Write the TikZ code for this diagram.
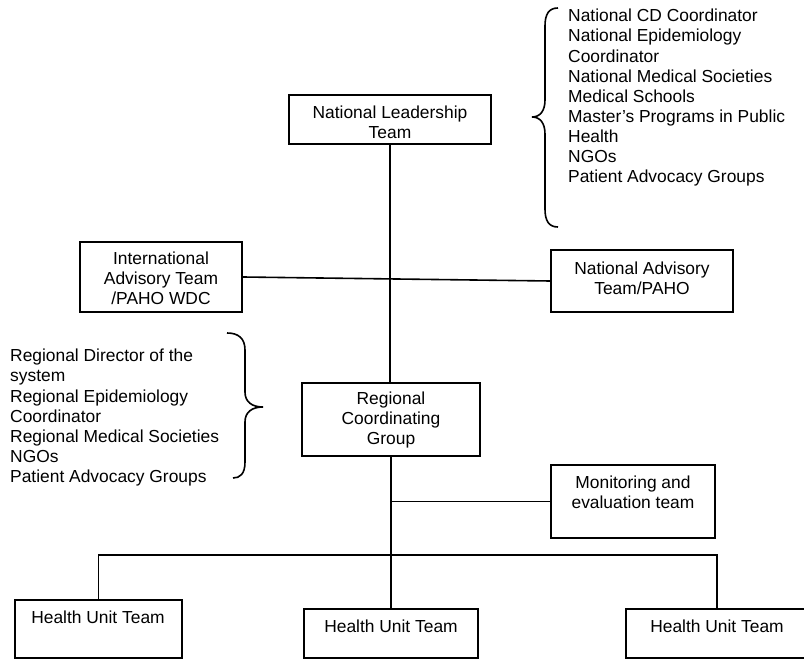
\documentclass[tikz,border=0pt]{standalone}
\usepackage{fontspec}
\setmainfont{Liberation Sans}
\begin{document}
\begin{tikzpicture}[x=1pt,y=-1pt,
  box/.style={draw, line width=1.6pt, inner sep=0pt},
  conn/.style={line width=1.6pt},
  lbl/.style={font=\fontsize{17.4}{20}\selectfont, align=center, inner sep=0pt},
  listtext/.style={font=\fontsize{17.4}{20.1}\selectfont, align=left, inner sep=0pt, anchor=north west}]

\useasboundingbox (0,0) rectangle (804,660);
\clip (0,0) rectangle (804,660);

% boxes
\node[box, minimum width=202pt, minimum height=49pt] (nlt) at (390,119.5) {};
\node[box, minimum width=162pt, minimum height=70pt] (int) at (161,277) {};
\node[box, minimum width=182pt, minimum height=62pt] (nad) at (642,281) {};
\node[box, minimum width=178pt, minimum height=73pt] (rcg) at (391,419.5) {};
\node[box, minimum width=164pt, minimum height=73pt] (mon) at (633,501.5) {};
\node[box, minimum width=167pt, minimum height=58pt] (hu1) at (98.5,629) {};
\node[box, minimum width=174pt, minimum height=49pt] (hu2) at (391,633.5) {};
\node[box, minimum width=182pt, minimum height=49pt] (hu3) at (717,633.5) {};

% box labels
\node[lbl] (nltText) at (390,122) {National Leadership\\Team};
\node[lbl] (intText) at (161,278) {International\\Advisory Team\\/PAHO WDC};
\node[lbl] (nadText) at (642,278) {National Advisory\\Team/PAHO};
\node[lbl] (rcgText) at (391,420) {Regional\\Coordinating\\Group};
\node[lbl] (monText) at (633,492) {Monitoring and\\evaluation team};
\node[lbl] (hu1Text) at (98,617) {Health Unit Team};
\node[lbl] (hu2Text) at (391,626) {Health Unit Team};
\node[lbl] (hu3Text) at (717,626) {Health Unit Team};

% member lists
\node[listtext] (natList) at (568,9) {National CD Coordinator\\National Epidemiology\\Coordinator\\National Medical Societies\\Medical Schools\\Master's Programs in Public\\Health\\NGOs\\Patient Advocacy Groups};
\node[listtext] (regList) at (10,349) {Regional Director of the\\system\\Regional Epidemiology\\Coordinator\\Regional Medical Societies\\NGOs\\Patient Advocacy Groups};

% braces
\draw[conn] (558,8) .. controls (549,8) and (545,14) .. (545,26) -- (545,100)
  .. controls (545,111) and (540,117) .. (532,117)
  .. controls (540,117) and (545,123) .. (545,134) -- (545,209)
  .. controls (545,221) and (549,227) .. (558,227);
\draw[conn] (227,333) .. controls (238,333) and (245,338) .. (245,350) -- (245,392)
  .. controls (245,402) and (252,407) .. (263,407)
  .. controls (252,407) and (245,412) .. (245,422) -- (245,462)
  .. controls (245,474) and (240,478) .. (233,478);

% connectors
\draw[conn] (nlt.south) -- (nlt.south |- rcg.north);
\draw[conn] (int.east) -- (nad.west);
\draw[conn] (rcg.south) -- (hu2.north);
\coordinate (monJoin) at (rcg.south |- mon.west);
\draw[conn] (monJoin) -- (mon.west);
\coordinate (bus) at (391,555);
\draw[conn] (hu1.north) |- (bus) -| (hu3.north);
\end{tikzpicture}
\end{document}
